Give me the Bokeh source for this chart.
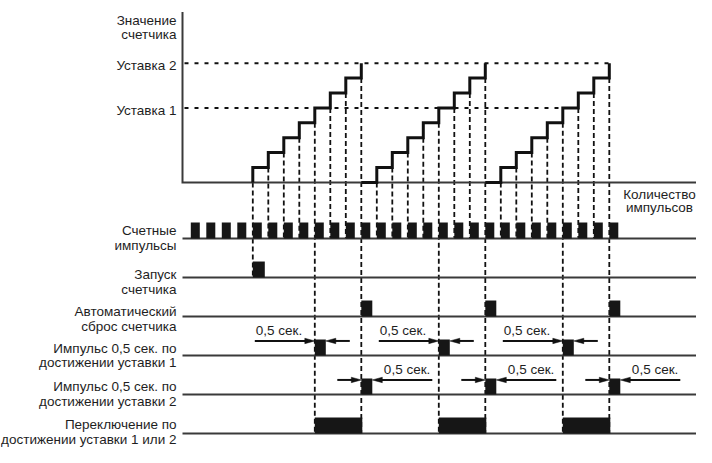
from bokeh.plotting import figure
from bokeh.models import Range1d
from bokeh.core.properties import value
from bokeh.embed import file_html
from bokeh.resources import INLINE

# ---------------- data ----------------
pulse_index = [0, 1, 2, 3, 4, 5, 6, 7, 8, 9, 10, 11, 12, 13,
               14, 15, 16, 17, 18, 19, 20, 21, 22, 23, 24, 25, 26, 27]
counter_after_pulse = [0, 0, 0, 0, 1, 2, 3, 4, 5, 6, 7, 8, 1, 2,
                       3, 4, 5, 6, 7, 8, 1, 2, 3, 4, 5, 6, 7, 8]
counter_start_pulse = 4
setpoint_names = ["Уставка 1", "Уставка 2"]
setpoint_values = [5, 8]
y_title = ["Значение", "счетчика"]
x_title = ["Количество", "импульсов"]
row_labels = [
    ["Счетные", "импульсы"],
    ["Запуск", "счетчика"],
    ["Автоматический", "сброс счетчика"],
    ["Импульс 0,5 сек. по", "достижении уставки 1"],
    ["Импульс 0,5 сек. по", "достижении уставки 2"],
    ["Переключение по", "достижении уставки 1 или 2"],
]
pulse_len_text = "0,5 сек."

SET1, SET2 = setpoint_values
set1_hits = [i for i, v in zip(pulse_index, counter_after_pulse) if v == SET1]
set2_hits = [i for i, v in zip(pulse_index, counter_after_pulse) if v == SET2]
reset_pulses = set2_hits

# ---------------- layout ----------------
W, H = 696, 447
PX = 15.5        # px per pulse
PY = 15.4        # reference px per counter unit (before vertical fit)
FY = 446 / 461   # vertical fit factor
X0 = -190.3 / PX
X1 = X0 + W / PX
Y1 = 188 / PY
Y0 = Y1 - (H / FY) / PY
AXIS_X = (182 - 190.3) / PX
AXIS_TOP = (188 - 12) / PY
LABEL_X = AXIS_X - 6 / PX
ROW0 = -58 / PY
ROW_STEP = 40.3 / PY
BLOCK_H = 16.5 / PY
PW = 9 / PX        # counting pulse width
SW = 11 / PX       # 0.5 s pulse width
RAISE = 4.6 / PY   # text baseline correction
LINE = "#3a3a3a"
INK = "#161616"
TXT = "#1e1e1e"
FONT = value("Liberation Sans")
FS = "13.5px"


def row(k):
    return ROW0 - k * ROW_STEP


p = figure(width=W, height=H, x_range=Range1d(X0, X1), y_range=Range1d(Y0, Y1),
           output_backend="svg", toolbar_location=None,
           x_axis_type=None, y_axis_type=None,
           min_border_left=0, min_border_right=0, min_border_top=0, min_border_bottom=0)
p.outline_line_color = None
p.xgrid.visible = False
p.ygrid.visible = False
p.background_fill_color = "white"

# ---- dashed vertical guide lines ----
vx, vtop, vbot = [], [], []
prev = 0
for i, v in zip(pulse_index, counter_after_pulse):
    if i < counter_start_pulse:
        continue
    if i == counter_start_pulse:
        bottom = row(1)
    elif i in set1_hits or i in set2_hits:
        bottom = row(5)
    else:
        bottom = row(0)
    vx.append(i)
    vtop.append(prev)
    vbot.append(bottom)
    prev = 0 if v == SET2 else v
p.segment(x0=vx, y0=vtop, x1=vx, y1=vbot, line_color="#111", line_width=1.8,
          line_dash="5 3")

# ---- setpoint dashed lines ----
p.segment(x0=[AXIS_X + 2 / PX] * 2, y0=setpoint_values,
          x1=[max(set1_hits), max(set2_hits)], y1=setpoint_values,
          line_color="#111", line_width=2, line_dash="4 6")

# ---- row baselines ----
rows = [row(k) for k in range(len(row_labels))]
p.segment(x0=[AXIS_X] * len(rows), y0=rows, x1=[X1] * len(rows), y1=rows,
          line_color=LINE, line_width=2)

# ---- main axes ----
p.line([AXIS_X, AXIS_X, X1], [AXIS_TOP, 0, 0], line_color=LINE, line_width=2,
       line_join="miter")

# ---- staircase ----
xs, ys = [], []
cx, cy = [], []
prev = 0
for i, v in zip(pulse_index, counter_after_pulse):
    if i < counter_start_pulse:
        continue
    cx += [i, i]
    cy += [prev, v]
    if v == SET2:
        xs.append(cx)
        ys.append(cy)
        cx, cy = [i], [0]
        prev = 0
    else:
        prev = v
if len(cx) > 1:
    xs.append(cx)
    ys.append(cy)
p.multi_line(xs, ys, line_color="#111", line_width=3, line_join="miter")

# ---- pulse blocks ----
p.quad(left=pulse_index, right=[i + PW for i in pulse_index],
       bottom=row(0), top=row(0) + BLOCK_H, fill_color=INK, line_color=None)
p.quad(left=[counter_start_pulse], right=[counter_start_pulse + 12 / PX],
       bottom=row(1), top=row(1) + BLOCK_H, fill_color=INK, line_color=None)
p.quad(left=reset_pulses, right=[i + SW for i in reset_pulses],
       bottom=row(2), top=row(2) + BLOCK_H, fill_color=INK, line_color=None)
p.quad(left=set1_hits, right=[i + SW for i in set1_hits],
       bottom=row(3), top=row(3) + BLOCK_H, fill_color=INK, line_color=None)
p.quad(left=set2_hits, right=[i + SW for i in set2_hits],
       bottom=row(4), top=row(4) + BLOCK_H, fill_color=INK, line_color=None)
p.quad(left=set1_hits, right=[i + 1 / PX for i in set2_hits],
       bottom=row(5), top=row(5) + BLOCK_H, fill_color=INK, line_color=None)

# ---- 0,5 s arrows ----
HL, HW = 10 / PX, 2.8 / PY
sx0, sx1, sy, hx, hy = [], [], [], [], []
tx, ty, ta = [], [], []


def arrow(tail, tip, y):
    d = 1 if tip > tail else -1
    sx0.append(tail)
    sx1.append(tip - d * HL * 0.6)
    sy.append(y)
    hx.append([tip, tip - d * HL, tip - d * HL])
    hy.append([y, y + HW, y - HW])


for k, hits, long_left in ((3, set1_hits, True), (4, set2_hits, False)):
    ay = row(k) + BLOCK_H - 1.5 / PY
    for h in hits:
        left_len = 60 / PX if long_left else 24 / PX
        right_len = 24 / PX if long_left else 60 / PX
        arrow(h - left_len, h, ay)
        arrow(h + SW + right_len, h + SW, ay)
        if long_left:
            tx.append(h - left_len + 1 / PX)
            ta.append("left")
        else:
            tx.append(h + SW + right_len - 2 / PX)
            ta.append("right")
        ty.append(ay + 6 / PY + RAISE)

p.segment(x0=sx0, y0=sy, x1=sx1, y1=sy, line_color="#111", line_width=2)
p.patches(hx, hy, fill_color="#111", line_color="#111", line_width=0.5)
p.text(x=tx, y=ty, text=[pulse_len_text] * len(tx), text_align=ta,
       text_baseline="alphabetic", text_font=FONT, text_font_size=FS,
       text_color=TXT)

# ---- texts ----
lx, ly, lt = [], [], []
# y title
lx += [LABEL_X, LABEL_X]
ly += [(188 - 25) / PY + RAISE, (188 - 40) / PY + RAISE]
lt += y_title
# setpoints
for name, val in zip(setpoint_names, setpoint_values):
    lx.append(LABEL_X)
    ly.append(val - 7 / PY + RAISE)
    lt.append(name)
# rows: first-line baseline offset from the row line (px, downward)
first_dy = [-3.3, 2.0, -0.5, -3.0, -3.5, -4.2]
for k, (a, b) in enumerate(row_labels):
    base = row(k) - first_dy[k] / PY + RAISE
    lx += [LABEL_X, LABEL_X]
    ly += [base, base - 15 / PY]
    lt += [a, b]
p.text(x=lx, y=ly, text=lt, text_align="right", text_baseline="alphabetic",
       text_font=FONT, text_font_size=FS, text_color=TXT)

# x title
cx_t = (659 - 190.3) / PX
p.text(x=[cx_t, cx_t], y=[(188 - 205) / PY + RAISE, (188 - 219) / PY + RAISE],
       text=x_title, text_align="center", text_baseline="alphabetic",
       text_font=FONT, text_font_size=FS, text_color=TXT)

open("out.html", "w").write(file_html(p, INLINE))
